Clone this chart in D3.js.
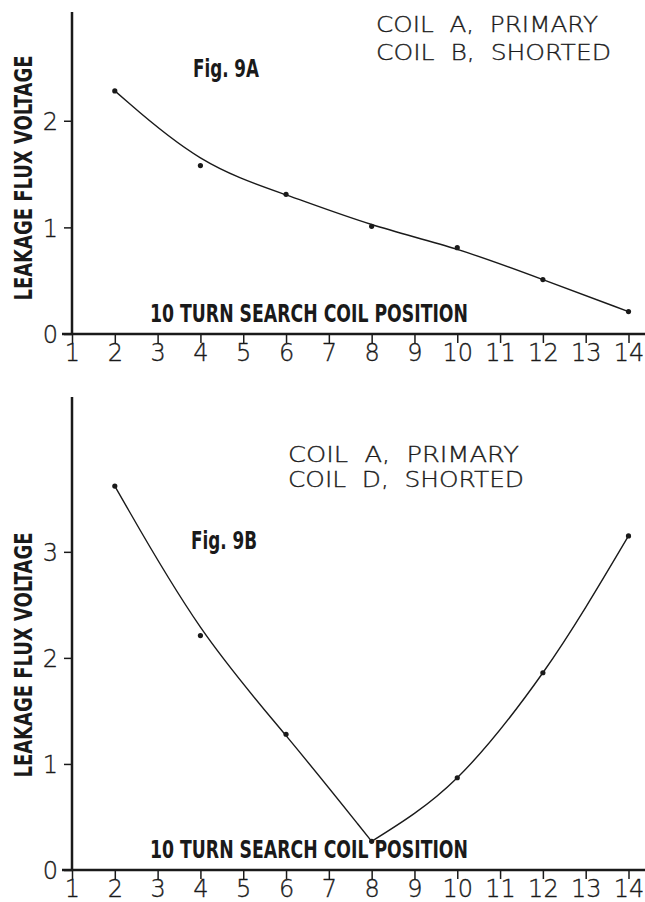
<!DOCTYPE html>
<html>
<head>
<meta charset="utf-8">
<script src="https://cdn.jsdelivr.net/npm/d3@7"></script>
<style>
  body { margin: 0; background: #fff; }
  svg { display: block; }
</style>
</head>
<body>
<svg id="chart" width="645" height="902"></svg>
<script>
const positions = [2, 4, 6, 8, 10, 12, 14]
const voltsA = [2.28, 1.58, 1.31, 1.01, 0.81, 0.51, 0.21]
const voltsB = [3.62, 2.21, 1.28, 0.27, 0.87, 1.86, 3.15]
const xTicks = [1, 2, 3, 4, 5, 6, 7, 8, 9, 10, 11, 12, 13, 14]
const yTicksA = [0, 1, 2]
const yTicksB = [0, 1, 2, 3]

const ink = "#1a1a1a"
const thinFont = "'DejaVu Sans', sans-serif"
const boldFont = "'DejaVu Sans Condensed', 'DejaVu Sans', sans-serif"

const svg = d3.select("#chart")

function thin(sel, size) {
  sel.style("font-family", thinFont).style("font-weight", 200)
    .style("font-size", size).attr("fill", ink)
    .attr("stroke", ink).attr("stroke-width", 0.35)
}

// one panel; the curve may be split at a vertex index
function drawPanel(opt) {
  const g = svg.append("g")
  const x = d3.scaleLinear().domain([1, 14]).range([72, 628.5])
  const y = d3.scaleLinear().domain([0, opt.yMax]).range([opt.zeroY, opt.topY])

  // x axis
  const xa = g.append("g")
    .attr("transform", `translate(0,${opt.zeroY})`)
    .call(d3.axisBottom(x).tickValues(xTicks).tickSize(9).tickFormat(d3.format("d")))
  xa.select(".domain").remove()
  xa.selectAll("line").attr("stroke", ink).attr("stroke-width", 1.5)
  xa.selectAll("text").attr("y", 27).attr("dy", 0).call(thin, "24px")
  g.append("line")
    .attr("x1", 62).attr("x2", 645)
    .attr("y1", opt.zeroY).attr("y2", opt.zeroY)
    .attr("stroke", ink).attr("stroke-width", 2.5)

  // y axis
  const ya = g.append("g")
    .attr("transform", `translate(${x(1)},0)`)
    .call(d3.axisLeft(y).tickValues(opt.yTicks).tickSize(8).tickFormat(d3.format("d")))
  ya.select(".domain").remove()
  ya.selectAll("line").attr("stroke", ink).attr("stroke-width", 1.5)
  ya.selectAll("text").attr("x", -14).attr("dy", "0.36em").call(thin, "24px")
  g.append("line")
    .attr("x1", x(1)).attr("x2", x(1))
    .attr("y1", opt.zeroY).attr("y2", opt.topY)
    .attr("stroke", ink).attr("stroke-width", 2.5)

  // curve
  const pts = positions.map((p, i) => [p, opt.values[i]])
  const parts = opt.splitAt == null ? [pts] : [pts.slice(0, opt.splitAt + 1), pts.slice(opt.splitAt)]
  parts.forEach((p, i) => {
    const line = d3.line().x(d => x(d[0])).y(d => y(d[1])).curve(opt.curves[i])
    g.append("path").attr("d", line(p))
      .attr("fill", "none").attr("stroke", ink).attr("stroke-width", 1.4)
  })
  g.selectAll("circle.pt").data(pts).join("circle")
    .attr("cx", d => x(d[0])).attr("cy", d => y(d[1])).attr("r", 2.6)
    .attr("fill", ink)

  // y label
  g.append("text")
    .attr("transform", `translate(32,${opt.labelMid}) rotate(-90)`)
    .attr("text-anchor", "middle")
    .attr("textLength", 245).attr("lengthAdjust", "spacingAndGlyphs")
    .style("font-family", boldFont).style("font-weight", "bold")
    .style("font-size", "25px").attr("fill", ink)
    .text("LEAKAGE FLUX VOLTAGE")

  // x label inside plot
  g.append("text")
    .attr("x", 150).attr("y", opt.zeroY - 12)
    .attr("textLength", 318).attr("lengthAdjust", "spacingAndGlyphs")
    .style("font-family", boldFont).style("font-weight", "bold")
    .style("font-size", "24px").attr("fill", ink)
    .text("10 TURN SEARCH COIL POSITION")

  // figure tag
  g.append("text")
    .attr("x", opt.fig[0]).attr("y", opt.fig[1])
    .attr("textLength", 66).attr("lengthAdjust", "spacingAndGlyphs")
    .style("font-family", boldFont).style("font-weight", "bold")
    .style("font-size", "24px").attr("fill", ink)
    .text(opt.figText)

  // note lines
  opt.notes.forEach((n, i) => {
    g.append("text")
      .attr("x", opt.noteX).attr("y", opt.noteY[i])
      .attr("textLength", n.w).attr("lengthAdjust", "spacingAndGlyphs")
      .style("white-space", "pre")
      .call(thin, "22px")
      .text(n.t)
  })
}

drawPanel({
  zeroY: 334, topY: 12, yMax: 3.02, yTicks: yTicksA, values: voltsA, splitAt: null,
  curves: [d3.curveBasis],
  labelMid: 178, fig: [193, 77], figText: "Fig. 9A",
  noteX: 376, noteY: [32, 60],
  notes: [{ t: "COIL  A,  PRIMARY", w: 222 }, { t: "COIL  B,  SHORTED", w: 235 }]
})

drawPanel({
  zeroY: 870, topY: 397, yMax: 4.46, yTicks: yTicksB, values: voltsB, splitAt: 3,
  curves: [d3.curveBasis, d3.curveMonotoneX],
  labelMid: 655, fig: [191, 549], figText: "Fig. 9B",
  noteX: 288, noteY: [462, 487],
  notes: [{ t: "COIL  A,  PRIMARY", w: 231 }, { t: "COIL  D,  SHORTED", w: 236 }]
})
</script>
</body>
</html>
